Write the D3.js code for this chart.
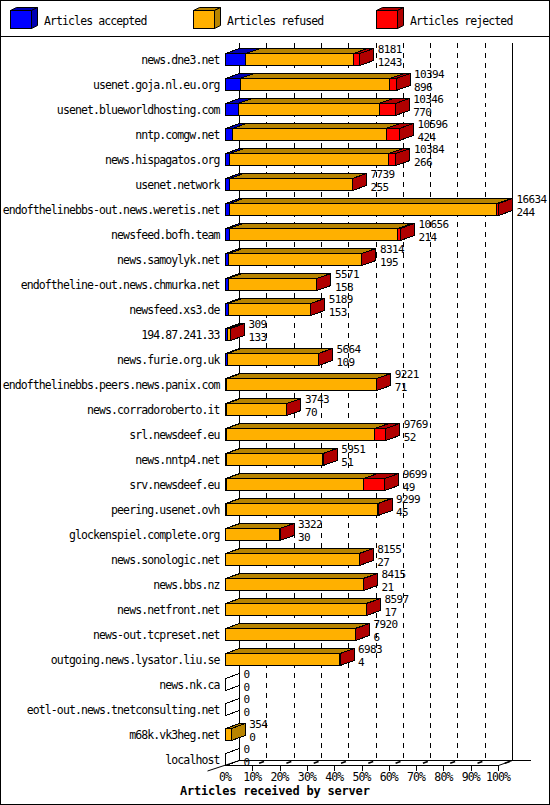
<!DOCTYPE html>
<html>
<head>
<meta charset="utf-8">
<script src="https://cdn.jsdelivr.net/npm/d3@7"></script>
<style>
  body { margin: 0; background: #fff; }
  svg { display: block; }
  text { font-family: 'DejaVu Sans Mono', monospace; font-size: 11.5px; letter-spacing: -0.9px; fill: #000; }
  text.value { font-size: 11px; letter-spacing: -0.62px; }
  .title { font-weight: bold; font-size: 12px; letter-spacing: -0.2px; }
  .grid { stroke: #000; stroke-dasharray: 5,5; }
  .edge { stroke: #000; fill: none; }
</style>
</head>
<body>
<svg id="chart" width="550" height="805"></svg>
<script>
const servers = [
  'news.dne3.net', 'usenet.goja.nl.eu.org', 'usenet.blueworldhosting.com', 'nntp.comgw.net',
  'news.hispagatos.org', 'usenet.network', 'endofthelinebbs-out.news.weretis.net', 'newsfeed.bofh.team',
  'news.samoylyk.net', 'endoftheline-out.news.chmurka.net', 'newsfeed.xs3.de', '194.87.241.33',
  'news.furie.org.uk', 'endofthelinebbs.peers.news.panix.com', 'news.corradoroberto.it', 'srl.newsdeef.eu',
  'news.nntp4.net', 'srv.newsdeef.eu', 'peering.usenet.ovh', 'glockenspiel.complete.org',
  'news.sonologic.net', 'news.bbs.nz', 'news.netfront.net', 'news-out.tcpreset.net',
  'outgoing.news.lysator.liu.se', 'news.nk.ca', 'eotl-out.news.tnetconsulting.net', 'm68k.vk3heg.net',
  'localhost'
];
// total offered (upper label) and accepted (lower label)
const totals = [8181, 10394, 10346, 10596, 10384, 7739, 16634, 10656, 8314, 5571, 5189, 309, 5664, 9221, 3743,
  9769, 5951, 9699, 9299, 3322, 8155, 8415, 8597, 7920, 6983, 0, 0, 354, 0];
const accepted = [1243, 896, 770, 424, 266, 255, 244, 214, 195, 158, 153, 133, 109, 71, 70,
  52, 51, 49, 45, 30, 27, 21, 17, 6, 4, 0, 0, 0, 0];
const refused = [6558, 9118, 8586, 9362, 9693, 7472, 16290, 10282, 8104, 5405, 5030, 173, 5550, 9140, 3669,
  9047, 5870, 8370, 9214, 3280, 8108, 8369, 8545, 7889, 6964, 0, 0, 354, 0];
const rejected = [380, 380, 990, 810, 425, 12, 100, 160, 15, 8, 6, 3, 5, 10, 4,
  670, 30, 1280, 40, 12, 20, 25, 35, 25, 15, 0, 0, 0, 0];
const percentTicks = [0, 10, 20, 30, 40, 50, 60, 70, 80, 90, 100];

const seriesNames = ['Articles accepted', 'Articles refused', 'Articles rejected'];
const seriesValues = [accepted, refused, rejected];
const frontColors = ['#0000ff', '#ffb000', '#ff0000'];
const darkColors = ['#0000b4', '#b88400', '#b00000'];

const DX = 14, DY = -5, BAR_H = 12;
const svg = d3.select('#chart');

const x = d3.scaleLinear().domain([0, d3.max(totals)]).range([225.5, 498.5]);
const pct = d3.scaleLinear().domain([0, 100]).range([225.5, 498.5]);
const y = d3.scaleBand().domain(servers).range([41, 766]);
const barTop = (name) => y(name) + 12.5;
const floorY = barTop(servers[servers.length - 1]) + BAR_H;
const planeTop = 42.5;

function box(g, x0, x1, top, front, dark) {
  const bottom = top + BAR_H;
  g.append('rect').attr('x', x0).attr('y', top).attr('width', Math.max(0, x1 - x0)).attr('height', BAR_H)
    .attr('fill', front).attr('stroke', '#000');
  g.append('path').attr('d', `M${x0},${top}L${x0 + DX},${top + DY}L${x1 + DX},${top + DY}L${x1},${top}Z`)
    .attr('fill', dark).attr('stroke', '#000');
  g.append('path').attr('d', `M${x1},${top}L${x1 + DX},${top + DY}L${x1 + DX},${bottom + DY}L${x1},${bottom}Z`)
    .attr('fill', dark).attr('stroke', '#000');
}

// frame and legend
svg.append('rect').attr('x', 0.5).attr('y', 0.5).attr('width', 549).attr('height', 804).attr('class', 'edge');
svg.append('line').attr('x1', 0).attr('x2', 550).attr('y1', 36.5).attr('y2', 36.5).attr('class', 'edge');

const legendX = [10.5, 193.5, 376.5];
seriesNames.forEach((name, i) => {
  const g = svg.append('g');
  const x0 = legendX[i], x1 = x0 + 21, top = 10.5, bottom = 28.5;
  g.append('rect').attr('x', x0).attr('y', top).attr('width', 21).attr('height', 18)
    .attr('fill', frontColors[i]).attr('stroke', '#000');
  g.append('path').attr('d', `M${x0},${top}L${x0 + 6},${top - 3}L${x1 + 6},${top - 3}L${x1},${top}Z`)
    .attr('fill', darkColors[i]).attr('stroke', '#000');
  g.append('path').attr('d', `M${x1},${top}L${x1 + 6},${top - 3}L${x1 + 6},${bottom - 3}L${x1},${bottom}Z`)
    .attr('fill', darkColors[i]).attr('stroke', '#000');
  svg.append('text').attr('x', x0 + 33.5).attr('y', 25).text(name);
});

// back plane grid
const grid = svg.append('g').attr('shape-rendering', 'crispEdges');
grid.selectAll('line.grid')
  .data(percentTicks.slice(1, -1))
  .join('line')
  .attr('class', 'grid')
  .attr('x1', (d) => pct(d) + DX).attr('x2', (d) => pct(d) + DX)
  .attr('y1', planeTop).attr('y2', floorY + DY);
[0, 100].forEach((p) => {
  grid.append('line').attr('class', 'edge')
    .attr('x1', pct(p) + DX).attr('x2', pct(p) + DX).attr('y1', planeTop).attr('y2', floorY + DY);
});
grid.append('line').attr('class', 'edge')
  .attr('x1', pct(0) + DX).attr('x2', pct(100) + DX + 18).attr('y1', floorY + DY).attr('y2', floorY + DY);
grid.append('line').attr('class', 'edge')
  .attr('x1', pct(0)).attr('x2', pct(100)).attr('y1', floorY).attr('y2', floorY);

// floor edges
svg.append('line').attr('class', 'edge')
  .attr('x1', pct(100)).attr('y1', floorY).attr('x2', pct(100) + DX).attr('y2', floorY + DY);
svg.append('line').attr('class', 'edge')
  .attr('x1', pct(0) + DX).attr('y1', floorY + DY).attr('x2', pct(0) - 18).attr('y2', floorY + 5.5);

// ticks on the floor
const ticks = svg.append('g');
ticks.selectAll('line.tick')
  .data(percentTicks.slice(1))
  .join('line')
  .attr('class', 'edge')
  .attr('x1', (d) => pct(d)).attr('x2', (d) => pct(d))
  .attr('y1', floorY).attr('y2', floorY + 5)
  .attr('shape-rendering', 'crispEdges');
ticks.selectAll('line.mark')
  .data(percentTicks.slice(1))
  .join('line')
  .attr('class', 'edge')
  .attr('stroke-width', 1.6)
  .attr('x1', (d) => pct(d) + DX * 0.45).attr('y1', floorY + DY * 0.45)
  .attr('x2', (d) => pct(d) + DX * 0.8).attr('y2', floorY + DY * 0.8);
ticks.selectAll('text')
  .data(percentTicks)
  .join('text')
  .attr('x', (d) => pct(d) - 0.5)
  .attr('y', floorY + 15)
  .attr('text-anchor', 'middle')
  .text((d) => `${d}%`);

svg.append('text').attr('class', 'title').attr('x', 180).attr('y', 795).text('Articles received by server');

// bars
const bars = svg.append('g').attr('shape-rendering', 'crispEdges');
servers.forEach((name, i) => {
  const g = bars.append('g');
  const top = barTop(name);
  let cum = 0;
  if (totals[i] === 0) {
    g.append('path')
      .attr('d', `M${x(0)},${top}L${x(0) + DX},${top + DY}L${x(0) + DX},${top + BAR_H + DY}L${x(0)},${top + BAR_H}Z`)
      .attr('class', 'edge');
  }
  seriesValues.forEach((values, s) => {
    const v = values[i];
    if (v <= 0) return;
    box(g, x(cum), x(cum + v), top, frontColors[s], darkColors[s]);
    cum += v;
  });

  const lx = x(totals[i]) + DX + 4;
  svg.append('text').attr('class', 'value').attr('x', lx).attr('y', top - 0.6).text(totals[i]);
  svg.append('text').attr('class', 'value').attr('x', lx).attr('y', top + 12.3).text(accepted[i]);
  svg.append('text').attr('x', 219.5).attr('y', top + 10).attr('text-anchor', 'end').text(name);
});
</script>
</body>
</html>
